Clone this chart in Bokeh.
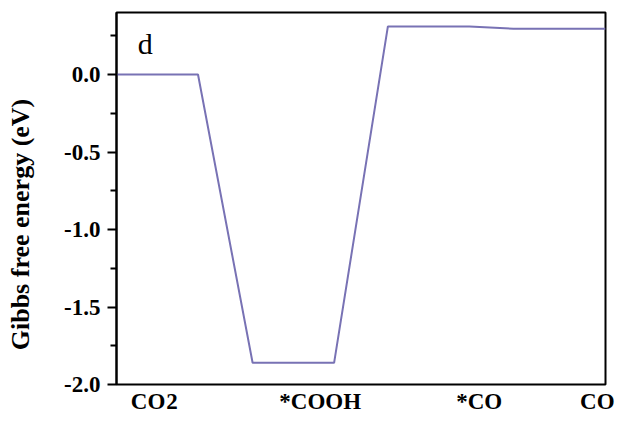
from bokeh.plotting import figure
from bokeh.models import FixedTicker, PrintfTickFormatter, Label, Range1d
from bokeh.embed import file_html
from bokeh.resources import INLINE

# data
states = ["CO2", "*COOH", "*CO", "CO"]
energy = [0.0, -1.86, 0.31, 0.295]          # eV
plateau_start = [0.0, 1.67, 3.33, 4.87]
plateau_end = [1.0, 2.67, 4.33, 6.0]
label_x = [0.387, 2.5, 4.45, 5.9]
sub_x = 0.68                                 # subscript "2" of CO2
y_ticks = [-2.0, -1.5, -1.0, -0.5, 0.0]
y_minor = [-1.75, -1.25, -0.75, -0.25, 0.25]

path_x, path_y = [], []
for s, e, g in zip(plateau_start, plateau_end, energy):
    path_x += [s, e]
    path_y += [g, g]

SERIF = "Liberation Serif"

p = figure(width=621, height=421, output_backend="svg", toolbar_location=None,
           x_range=Range1d(0.0, 6.0), y_range=Range1d(-2.0, 0.40),
           min_border_left=116, min_border_right=16, min_border_top=12,
           min_border_bottom=37)
p.background_fill_color = "white"
p.border_fill_color = "white"
p.grid.visible = False
p.outline_line_color = "black"
p.outline_line_width = 2
p.outline_line_alpha = 1.0

p.line(path_x, path_y, line_color="#7872b4", line_width=2)

# x axis: category names only
xa = p.xaxis[0]
overrides = {}
ticks = []
for name, lx in zip(states, label_x):
    ticks.append(lx)
    overrides[lx] = "CO" if name == "CO2" else name
ticks.append(sub_x)
overrides[sub_x] = "2"
xa.ticker = FixedTicker(ticks=sorted(ticks), minor_ticks=[])
xa.major_label_overrides = overrides
xa.axis_line_color = None
xa.major_tick_line_color = None
xa.minor_tick_line_color = None
xa.major_tick_out = 0
xa.major_tick_in = 0
xa.major_label_standoff = 4
xa.major_label_text_font = SERIF
xa.major_label_text_font_style = "bold"
xa.major_label_text_font_size = "23px"
xa.major_label_text_color = "black"

ya = p.yaxis[0]
ya.ticker = FixedTicker(ticks=y_ticks, minor_ticks=y_minor)
ya.formatter = PrintfTickFormatter(format="%.1f")
ya.axis_line_width = 2
ya.axis_line_color = "black"
ya.major_tick_line_width = 2
ya.minor_tick_line_width = 2
ya.major_tick_out = 9
ya.major_tick_in = 0
ya.minor_tick_out = 6
ya.minor_tick_in = 0
ya.major_label_standoff = 7
ya.major_label_text_font = SERIF
ya.major_label_text_font_style = "bold"
ya.major_label_text_font_size = "23px"
ya.major_label_text_color = "black"
ya.axis_label = "Gibbs free energy (eV)" + "\u00a0" * 8
ya.axis_label_text_font = SERIF
ya.axis_label_text_font_style = "bold"
ya.axis_label_text_font_size = "26px"
ya.axis_label_text_color = "black"
ya.axis_label_standoff = 26

p.add_layout(Label(x=0.26, y=0.20, text="d", text_align="left",
                   text_baseline="alphabetic", text_font=SERIF,
                   text_font_size="30px", text_color="black"))

open("out.html", "w").write(file_html(p, INLINE))
